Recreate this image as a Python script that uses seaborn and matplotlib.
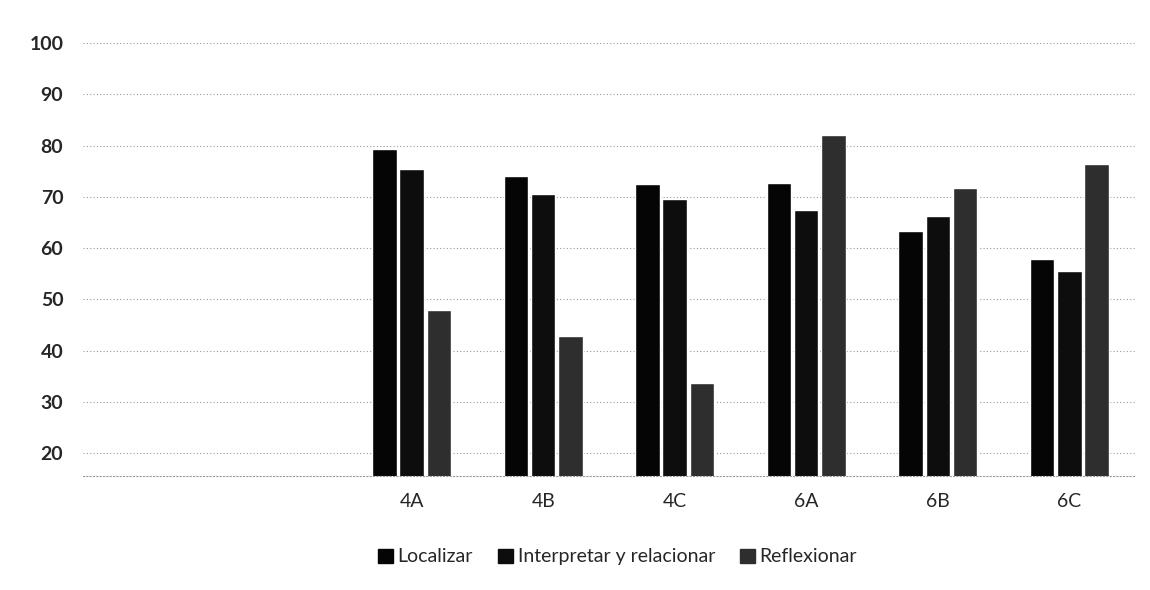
import matplotlib
matplotlib.use("Agg")
import matplotlib.pyplot as plt
import matplotlib.patches as mpatches
import seaborn as sns
import pandas as pd

# data
grupos = ["4A", "4B", "4C", "6A", "6B", "6C"]
localizar = [79.4, 74.1, 72.5, 72.7, 63.3, 57.8]
interpretar = [75.4, 70.6, 69.5, 67.5, 66.3, 55.6]
reflexionar = [48.0, 42.9, 33.6, 82.0, 71.8, 76.4]
series = ["Localizar", "Interpretar y relacionar", "Reflexionar"]
colores = ["#050505", "#0d0d0d", "#2e2e2e"]
# two empty slots on the left of the axis, as in the original
orden = ["", " "] + grupos

df = pd.DataFrame({
    "grupo": grupos * 3,
    "serie": [series[0]] * 6 + [series[1]] * 6 + [series[2]] * 6,
    "valor": localizar + interpretar + reflexionar,
})

sns.set_style("white")
plt.rcParams["font.family"] = ["Lato", "DejaVu Sans"]

fig = plt.figure(figsize=(11.5, 5.9), dpi=100)
ax = fig.add_axes([0.072, 0.193, 0.915, 0.734])

sns.barplot(data=df, x="grupo", y="valor", hue="serie", order=orden,
            hue_order=series, palette=colores, width=0.62, gap=0.1,
            legend=False, ax=ax)

ax.set_ylim(15.5, 100)
ax.set_yticks(range(20, 101, 10))
ax.set_xlabel("")
ax.set_ylabel("")
ax.tick_params(axis="both", length=0, labelsize=14)
ax.tick_params(axis="y", pad=14)
ax.tick_params(axis="x", pad=12)
for lab in ax.get_yticklabels():
    lab.set_fontweight("bold")

ax.grid(axis="y", color="#9a9a9a", linestyle=(0, (1, 2)), linewidth=0.8)
ax.set_axisbelow(True)
for s in ["top", "right", "left"]:
    ax.spines[s].set_visible(False)
ax.spines["bottom"].set_color("#9a9a9a")
ax.spines["bottom"].set_linestyle((0, (1, 2)))
ax.spines["bottom"].set_linewidth(0.8)

handles = [mpatches.Patch(color=c, label=s) for c, s in zip(colores, series)]
fig.legend(handles=handles, loc="center", bbox_to_anchor=(0.537, 0.056),
           ncol=3, frameon=False, fontsize=14, handlelength=0.75,
           handleheight=0.75, handletextpad=0.25, columnspacing=1.3)

fig.savefig("out.png", dpi=100)
